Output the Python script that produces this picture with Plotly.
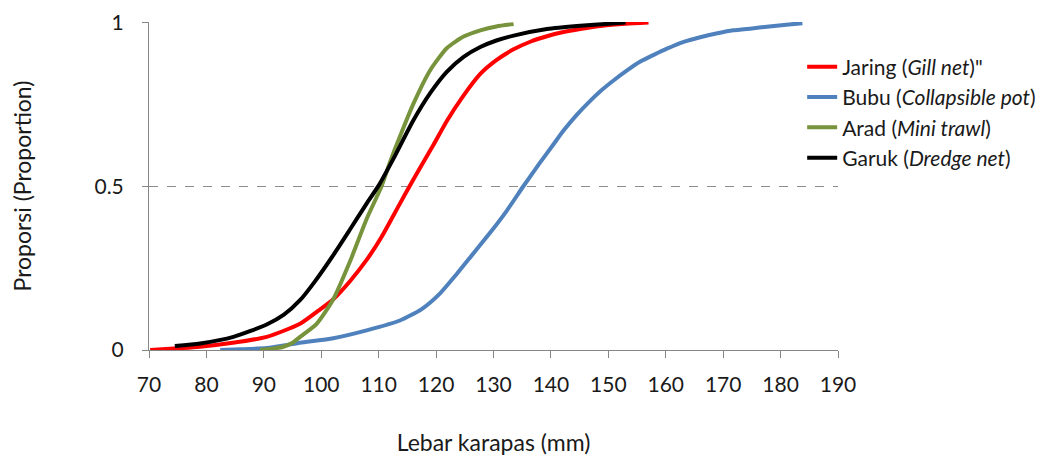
import plotly.graph_objects as go

# Jaring (Gill net)
jaring_x = [70.2, 75, 78.9, 84.6, 90.5, 96.3, 99.5, 102.1, 105, 107.9, 110.5, 113.7, 115.7, 117.5, 119.5,
            121.9, 124.5, 127.7, 130.5, 133.5, 136.5, 139.3, 142, 145.1, 149, 153, 157]
jaring_y = [0.0, 0.005, 0.01, 0.022, 0.04, 0.08, 0.12, 0.155, 0.21, 0.275, 0.345, 0.447, 0.51, 0.565, 0.625,
            0.70, 0.77, 0.843, 0.885, 0.918, 0.942, 0.958, 0.97, 0.98, 0.99, 0.996, 1.0]

# Bubu (Collapsible pot)
bubu_x = [82.4, 86, 90.5, 96.3, 102.1, 107.9, 113.7, 117.5, 120.7, 123.5, 126.5, 129.5, 132.3, 135.2,
          138.1, 140.2, 142.2, 144.5, 146.8, 148.8, 150.9, 153.2, 155.5, 158, 160.2, 163, 166, 169,
          171.7, 175, 177.6, 181, 183.8]
bubu_y = [0.0, 0.002, 0.006, 0.022, 0.036, 0.06, 0.09, 0.125, 0.173, 0.23, 0.295, 0.36, 0.425, 0.5,
          0.572, 0.622, 0.67, 0.718, 0.76, 0.793, 0.823, 0.853, 0.88, 0.902, 0.92, 0.94, 0.955, 0.967,
          0.976, 0.982, 0.987, 0.993, 0.998]

# Arad (Mini trawl)
arad_x = [89.3, 91.5, 93.4, 95, 96.3, 99.2, 102.1, 105, 107.9, 110.5, 112, 114, 116, 119, 121.9,
          124.8, 127.7, 130.5, 133.5]
arad_y = [0.0, 0.004, 0.01, 0.022, 0.04, 0.08, 0.155, 0.27, 0.40, 0.5, 0.575, 0.665, 0.75, 0.855, 0.922,
          0.957, 0.976, 0.988, 0.995]

# Garuk (Dredge net)
garuk_x = [74.5, 78.9, 84.7, 90.5, 93.5, 96.3, 99, 102.1, 105, 107.9, 110.1, 112.6, 116.0, 119, 121.9,
           124.8, 127.7, 130.5, 133.5, 139.3, 145.1, 150, 153]
garuk_y = [0.012, 0.02, 0.04, 0.078, 0.108, 0.152, 0.212, 0.29, 0.368, 0.447, 0.505, 0.585, 0.70, 0.785, 0.85,
           0.895, 0.925, 0.945, 0.96, 0.98, 0.99, 0.996, 1.0]

series_names = ['Jaring (<i>Gill net</i>)"', 'Bubu (<i>Collapsible pot</i>)',
                'Arad (<i>Mini trawl</i>)', 'Garuk (<i>Dredge net</i>)']
series_colors = ['#FF0000', '#4F81BD', '#77933C', '#000000']
series_x = [jaring_x, bubu_x, arad_x, garuk_x]
series_y = [jaring_y, bubu_y, arad_y, garuk_y]

x_ticks = [70, 80, 90, 100, 110, 120, 130, 140, 150, 160, 170, 180, 190]
y_ticks = [0, 0.5, 1]
y_tick_labels = ['0', '0.5', '1']

FONT = 'Lato'
TXT = '#1a1a1a'
fig = go.Figure()
for name, color, xs, ys in zip(series_names, series_colors, series_x, series_y):
    fig.add_trace(go.Scatter(x=xs, y=ys, mode='lines', name=name,
                             line=dict(color=color, width=4, shape='spline', smoothing=0.6)))

fig.update_layout(
    width=1039, height=449,
    margin=dict(l=141, r=209, t=14, b=107, autoexpand=False),
    paper_bgcolor='white', plot_bgcolor='white',
    font=dict(family=FONT, size=21, color=TXT),
    showlegend=True,
    legend=dict(x=0.948, y=0.925, xanchor='left', yanchor='top',
                font=dict(family=FONT, size=21, color=TXT),
                bgcolor='rgba(0,0,0,0)', tracegroupgap=0),
    xaxis=dict(range=[70, 190], tickmode='array', tickvals=x_ticks,
               showgrid=False, zeroline=False, automargin=False,
               showline=True, linecolor='#868686', linewidth=1,
               ticks='outside', ticklen=7, tickcolor='#868686',
               ticklabelstandoff=9,
               tickfont=dict(family=FONT, size=21, color=TXT),
               title=dict(text='Lebar karapas (mm)', standoff=39,
                          font=dict(family=FONT, size=23, color=TXT))),
    yaxis=dict(range=[0, 1.0015], tickmode='array', tickvals=y_ticks, ticktext=y_tick_labels,
               showgrid=True, gridcolor='#8c8c8c', griddash='dash', gridwidth=1,
               zeroline=False, automargin=False,
               showline=True, linecolor='#868686', linewidth=1,
               ticks='outside', ticklen=6, tickcolor='#868686',
               ticklabelstandoff=14,
               tickfont=dict(family=FONT, size=21, color=TXT),
               title=dict(text='Proporsi (Proportion)', standoff=58,
                          font=dict(family=FONT, size=23, color=TXT))),
)

fig.write_html("out.html")
